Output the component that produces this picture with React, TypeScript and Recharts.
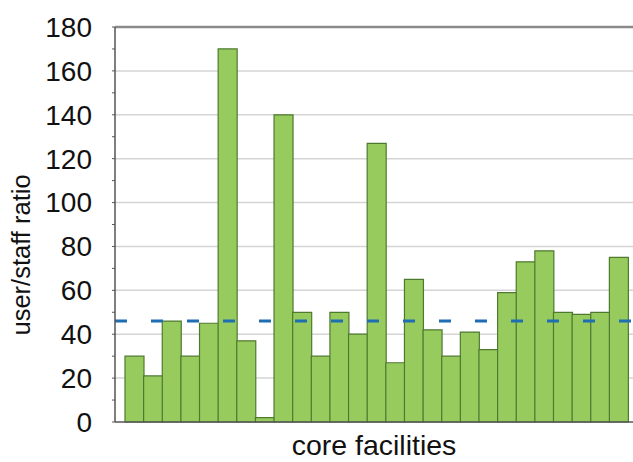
import { BarChart, Bar, XAxis, YAxis, CartesianGrid, ReferenceLine, Label } from 'recharts';

const facilities = [
  'F1', 'F2', 'F3', 'F4', 'F5', 'F6', 'F7', 'F8', 'F9', 'F10', 'F11', 'F12', 'F13', 'F14',
  'F15', 'F16', 'F17', 'F18', 'F19', 'F20', 'F21', 'F22', 'F23', 'F24', 'F25', 'F26', 'F27',
]
const ratios = [30, 21, 46, 30, 45, 170, 37, 2, 140, 50, 30, 50, 40, 127, 27, 65, 42, 30, 41, 33, 59, 73, 78, 50, 49, 50, 75]
const averageRatio = 46
const yTicks = [0, 10, 20, 30, 40, 50, 60, 70, 80, 90, 100, 110, 120, 130, 140, 150, 160, 170, 180]
const gridValues = [20, 40, 60, 80, 100, 120, 140, 160]

const data = facilities.map((name, i) => ({ name, ratio: ratios[i] }))

const font = 'Liberation Sans, Arial, sans-serif'

export default function App() {
  return (
    <div style={{ width: 633, height: 462 }}>
      <style>{'body{margin:0}'}</style>
      <BarChart
        width={633}
        height={462}
        data={data}
        margin={{ top: 27, right: 0, left: 0, bottom: 0 }}
        barCategoryGap={0}
        barGap={0}
      >
        <CartesianGrid vertical={false} horizontalValues={gridValues} stroke="#d4d4d4" strokeWidth={1.5} />
        <XAxis
          dataKey="name"
          tick={false}
          tickLine={false}
          height={40}
          padding={{ left: 10, right: 5 }}
          axisLine={{ stroke: '#555', strokeWidth: 1.5 }}
        >
          <Label
            content={({ viewBox }: any) => (
              <text
                x={viewBox.x + viewBox.width / 2}
                y={455}
                textAnchor="middle"
                fontFamily={font}
                fontSize={28.5}
                fill="#111"
              >
                core facilities
              </text>
            )}
          />
        </XAxis>
        {/* full-width axis so the reference lines run from the y axis to the edge */}
        <XAxis xAxisId="full" type="number" domain={[0, 1]} hide />
        <YAxis
          width={115}
          domain={[0, 180]}
          ticks={yTicks}
          interval={0}
          tickSize={3}
          tickMargin={20}
          tickFormatter={(v: number) => (v % 20 === 0 ? String(v) : '')}
          tick={{ fontFamily: font, fontSize: 28, fill: '#111' }}
          tickLine={{ stroke: '#555' }}
          axisLine={{ stroke: '#555', strokeWidth: 1.5 }}
        >
          <Label
            content={() => (
              <text
                x={21}
                y={255}
                transform="rotate(-90 21 255)"
                textAnchor="middle"
                dominantBaseline="central"
                fontFamily={font}
                fontSize={25.5}
                fill="#111"
              >
                user/staff ratio
              </text>
            )}
          />
        </YAxis>
        <ReferenceLine xAxisId="full" y={180} stroke="#8a8a8a" strokeWidth={2.5} />
        <Bar dataKey="ratio" fill="#98cb5e" stroke="#4e7a30" strokeWidth={1.2} isAnimationActive={false} />
        <ReferenceLine xAxisId="full" y={averageRatio} stroke="#1f6db3" strokeWidth={3} strokeDasharray="12 24" />
      </BarChart>
    </div>
  )
}
